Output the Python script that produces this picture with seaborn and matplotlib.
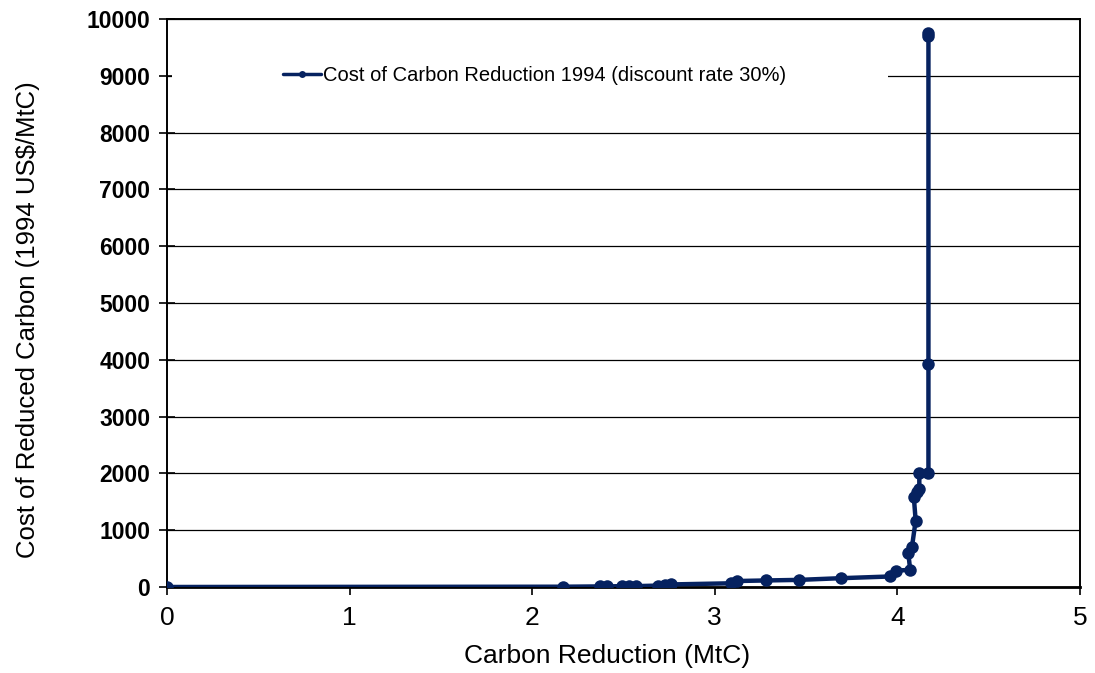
import seaborn as sns
import matplotlib.pyplot as plt
import pandas as pd
from matplotlib.patches import Rectangle

# carbon reduction (MtC) and cost (1994 US$/MtC)
reduction = [0.0, 2.17, 2.37, 2.41, 2.49, 2.53, 2.57, 2.69, 2.73, 2.76,
             3.09, 3.12, 3.28, 3.46, 3.69, 3.96, 3.99, 4.07, 4.06, 4.08,
             4.10, 4.09, 4.105, 4.12, 4.12, 4.17, 4.17, 4.17, 4.17]
cost = [0, 5, 10, 10, 15, 15, 15, 25, 35, 45,
        65, 105, 115, 125, 155, 185, 290, 300, 590, 710,
        1170, 1580, 1680, 1720, 2010, 2010, 3925, 9700, 9760]

series_name = "Cost of Carbon Reduction 1994 (discount rate 30%)"
x_ticks = [0, 1, 2, 3, 4, 5]
y_ticks = list(range(0, 10001, 1000))

df = pd.DataFrame({"reduction": reduction, "cost": cost, "series": series_name})

sns.set_style("white")
plt.rcParams["font.family"] = ["Liberation Sans", "DejaVu Sans"]
plt.rcParams["text.color"] = "black"
plt.rcParams["axes.labelcolor"] = "black"
plt.rcParams["xtick.color"] = "black"
plt.rcParams["ytick.color"] = "black"

fig = plt.figure(figsize=(10.95, 6.73), dpi=100)
ax = fig.add_axes([0.1525, 0.1278, 0.8338, 0.844])

navy = "#062260"
sns.lineplot(data=df, x="reduction", y="cost", hue="series", palette=[navy],
             sort=False, estimator=None, marker="o", markersize=9,
             markeredgewidth=0, linewidth=3.2, ax=ax, zorder=3)

ax.set_xlim(0, 5)
ax.set_ylim(0, 10000)
ax.set_xticks(x_ticks)
ax.set_yticks(y_ticks)

ax.set_axisbelow(True)
ax.yaxis.grid(True, color="black", linewidth=0.9)
ax.xaxis.grid(False)

# white area behind the legend hides the gridline
ax.add_patch(Rectangle((0.005, 0.85), 0.785, 0.10, transform=ax.transAxes,
                       facecolor="white", edgecolor="none", zorder=1.5))

for side in ["left", "right", "top", "bottom"]:
    ax.spines[side].set_visible(True)
    ax.spines[side].set_color("black")
    ax.spines[side].set_linewidth(1.4)
ax.spines["bottom"].set_linewidth(2)

ax.tick_params(axis="y", direction="inout", length=12, width=1.2, pad=6,
               labelsize=16.5, left=True)
ax.tick_params(axis="x", direction="out", length=6, width=1.2, pad=8,
               labelsize=19, bottom=True)
for lab in ax.get_yticklabels():
    lab.set_fontweight("bold")

ax.set_xlabel("Carbon Reduction (MtC)", fontsize=19)
ax.set_ylabel("Cost of Reduced Carbon (1994 US$/MtC)", fontsize=18.5)
ax.xaxis.set_label_coords(0.482, -0.100)
ax.yaxis.set_label_coords(-0.139, 0.47)

handles, labels = ax.get_legend_handles_labels()
for h in handles:
    h.set_markersize(5)
    h.set_linewidth(2.5)
leg = ax.legend(handles, labels, loc="center left", bbox_to_anchor=(0.127, 0.9),
                frameon=False, fontsize=14.5, handlelength=1.9, handletextpad=0.1,
                borderpad=0, borderaxespad=0)

fig.savefig("out.png", dpi=100)
